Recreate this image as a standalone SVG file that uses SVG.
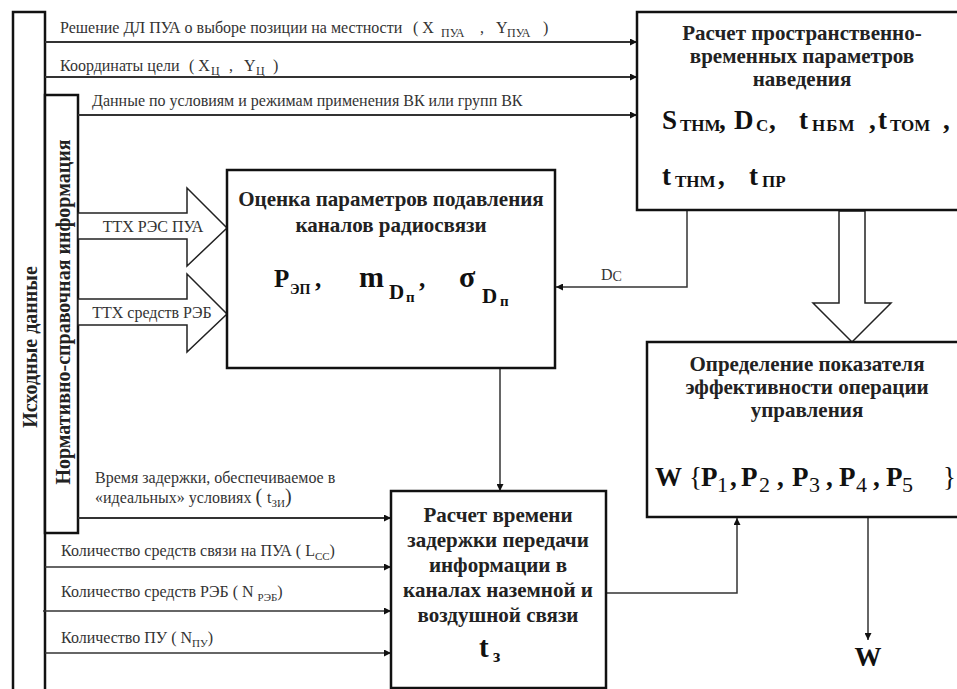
<svg xmlns="http://www.w3.org/2000/svg" width="957" height="689" viewBox="0 0 957 689" font-family="Liberation Serif, Times New Roman, serif">
<style>
.box{fill:#fff;stroke:#111;stroke-width:2.5}
.ln{stroke:#333;stroke-width:1.5;fill:none}
.ln2{stroke:#333;stroke-width:2;fill:none}
.hol{fill:#fff;stroke:#222;stroke-width:1.5}
.t{font-size:16px;fill:#333}
.ts{font-size:11px}
.b{font-weight:bold;font-size:21px;fill:#222;text-anchor:middle}
.m{font-weight:bold;font-size:27px;fill:#111}
.ms{font-size:17px}
.v{font-weight:bold;font-size:20px;fill:#222;text-anchor:middle}
</style>
<defs>
<marker id="ah" viewBox="0 0 10 10" refX="10" refY="5" markerWidth="9" markerHeight="7" markerUnits="userSpaceOnUse" orient="auto"><path d="M0,0 L10,5 L0,10 z" fill="#111"/></marker>
</defs>
<rect width="957" height="689" fill="#fff"/>

<g id="ishodnye">
<rect class="box" x="13" y="12" width="32" height="700"/>
<text class="v" transform="translate(37,347) rotate(-90)">Исходные данные</text>
</g>
<g id="normativ">
<rect class="box" x="45" y="95" width="33" height="438"/>
<text class="v" font-size="21" transform="translate(70,312) rotate(-90)">Нормативно-справочная информация</text>
</g>

<g id="connectors">
<line class="ln2" x1="45" y1="42" x2="637" y2="42" marker-end="url(#ah)"/>
<line class="ln2" x1="45" y1="77" x2="637" y2="77" marker-end="url(#ah)"/>
<line class="ln2" x1="78" y1="115" x2="637" y2="115" marker-end="url(#ah)"/>
<polyline class="ln" points="687,210 687,287 556,287" marker-end="url(#ah)"/>
<line class="ln" x1="500" y1="368" x2="500" y2="491" marker-end="url(#ah)"/>
<polyline class="ln" points="606,593 737,593 737,518" marker-end="url(#ah)"/>
<line class="ln" x1="868" y1="517" x2="868" y2="640" marker-end="url(#ah)"/>
<line class="ln2" x1="78" y1="518" x2="391" y2="518" marker-end="url(#ah)"/>
<line class="ln" x1="45" y1="567" x2="391" y2="567" marker-end="url(#ah)"/>
<line class="ln" x1="43" y1="611" x2="391" y2="611" marker-end="url(#ah)"/>
<line class="ln" x1="45" y1="653" x2="391" y2="653" marker-end="url(#ah)"/>
<polygon class="hol" points="78,213 187,213 187,188 227,228 187,266 187,239 78,239"/>
<polygon class="hol" points="78,299 187,299 187,274 227,314 187,352 187,325 78,325"/>
<polygon class="hol" points="839,211 865,211 865,303 891,303 852,342 813,303 839,303"/>
</g>

<g id="labels">
<text class="t" y="33"><tspan x="60">Решение ДЛ ПУА о выборе позиции на местности</tspan><tspan x="413">( X</tspan><tspan x="441" y="37" font-size="12">ПУА</tspan><tspan x="480" y="33">,</tspan><tspan x="496">Y</tspan><tspan x="507" y="37" font-size="12">ПУА</tspan><tspan x="543" y="33">)</tspan></text>
<text class="t" y="71"><tspan x="60">Координаты цели</tspan><tspan x="189">( X</tspan><tspan x="211" y="75" font-size="12">Ц</tspan><tspan x="229" y="71">,</tspan><tspan x="244">Y</tspan><tspan x="256" y="75" font-size="12">Ц</tspan><tspan x="273" y="71">)</tspan></text>
<text class="t" x="92" y="106">Данные по условиям и режимам применения ВК или групп ВК</text>
<text class="t" x="153" y="232" font-size="15" text-anchor="middle">ТТХ РЭС ПУА</text>
<text class="t" x="152" y="318" font-size="15" text-anchor="middle">ТТХ средств РЭБ</text>
<text class="t" x="601" y="280" font-size="20">D<tspan font-size="14" dy="1">C</tspan></text>
<text class="t" x="95" y="483">Время задержки, обеспечиваемое в</text>
<text class="t" x="95" y="503">«идеальных» условиях <tspan font-size="20">( </tspan>t<tspan class="ts" font-size="12" dy="4">ЗИ</tspan><tspan font-size="20" dy="-4">)</tspan></text>
<text class="t" x="61" y="556">Количество средств связи на ПУА ( L<tspan class="ts" dy="4">CC</tspan><tspan dy="-4">)</tspan></text>
<text class="t" x="61" y="597">Количество средств РЭБ ( N <tspan class="ts" dy="4">РЭБ</tspan><tspan dy="-4">)</tspan></text>
<text class="t" x="61" y="643">Количество ПУ ( N<tspan class="ts" dy="4">ПУ</tspan><tspan dy="-4">)</tspan></text>
<text class="m" x="868" y="666" font-size="23" text-anchor="middle">W</text>
</g>

<g id="raschet-prostr">
<rect class="box" x="637" y="12" width="340" height="198"/>
<text class="b" x="802" y="40">Расчет пространственно-</text>
<text class="b" x="802" y="63">временных параметров</text>
<text class="b" x="802" y="86">наведения</text>
<text class="m"><tspan x="662" y="129">S</tspan><tspan class="ms" x="680" y="131">ТНМ</tspan><tspan x="719" y="129">,</tspan><tspan x="734" y="129">D</tspan><tspan class="ms" x="756" y="131">C</tspan><tspan x="769" y="129">,</tspan><tspan x="799" y="129">t</tspan><tspan class="ms" x="812" y="131" font-size="20" letter-spacing="1">НБМ</tspan><tspan x="869" y="129">,</tspan><tspan x="878" y="129">t</tspan><tspan class="ms" x="890" y="131" font-size="20">ТОМ</tspan><tspan x="943" y="129">,</tspan></text>
<text class="m"><tspan x="662" y="185">t</tspan><tspan class="ms" x="675" y="187">ТНМ</tspan><tspan x="718" y="185">,</tspan><tspan x="749" y="185">t</tspan><tspan class="ms" x="762" y="187">ПР</tspan></text>
</g>

<g id="ocenka">
<rect class="box" x="227" y="170" width="328" height="198"/>
<text class="b" x="391" y="206">Оценка параметров подавления</text>
<text class="b" x="391" y="232">каналов радиосвязи</text>
<text class="m"><tspan x="274" y="287" font-size="25">P</tspan><tspan x="290" y="294" font-size="14">ЭП</tspan><tspan x="315" y="287" font-size="25">,</tspan><tspan x="359" y="287" font-size="30">m</tspan><tspan x="389" y="299" font-size="21">D</tspan><tspan x="406" y="302" font-size="15">п</tspan><tspan x="419" y="287" font-size="25">,</tspan><tspan x="459" y="287" font-size="30">σ</tspan><tspan x="482" y="303" font-size="21">D</tspan><tspan x="500" y="306" font-size="15">п</tspan></text>
</g>

<g id="opredelenie">
<rect class="box" x="647" y="342" width="330" height="175"/>
<text class="b" x="807" y="371">Определение показателя</text>
<text class="b" x="807" y="394">эффективности операции</text>
<text class="b" x="807" y="417">управления</text>
<text class="m"><tspan x="655" y="486">W</tspan><tspan x="689" y="486" font-weight="normal">{</tspan><tspan x="701" y="486">P</tspan><tspan x="717" y="492" font-weight="normal" font-size="22">1</tspan><tspan x="730" y="486">,</tspan><tspan x="741" y="486">P</tspan><tspan x="759" y="492" font-weight="normal" font-size="22">2</tspan><tspan x="777" y="486">,</tspan><tspan x="792" y="486">P</tspan><tspan x="809" y="492" font-weight="normal" font-size="22">3</tspan><tspan x="826" y="486">,</tspan><tspan x="839" y="486">P</tspan><tspan x="856" y="492" font-weight="normal" font-size="22">4</tspan><tspan x="873" y="486">,</tspan><tspan x="886" y="486">P</tspan><tspan x="902" y="492" font-weight="normal" font-size="22">5</tspan><tspan x="943" y="486" font-weight="normal">}</tspan></text>
</g>

<g id="raschet-vremeni">
<rect class="box" x="391" y="491" width="215" height="197"/>
<text class="b" x="498" y="522">Расчет времени</text>
<text class="b" x="498" y="547">задержки передачи</text>
<text class="b" x="498" y="572">информации в</text>
<text class="b" x="498" y="597">каналах наземной и</text>
<text class="b" x="498" y="622">воздушной связи</text>
<text class="m"><tspan x="479" y="657" font-size="29">t</tspan><tspan x="493" y="662" font-size="18">з</tspan></text>
</g>
</svg>
